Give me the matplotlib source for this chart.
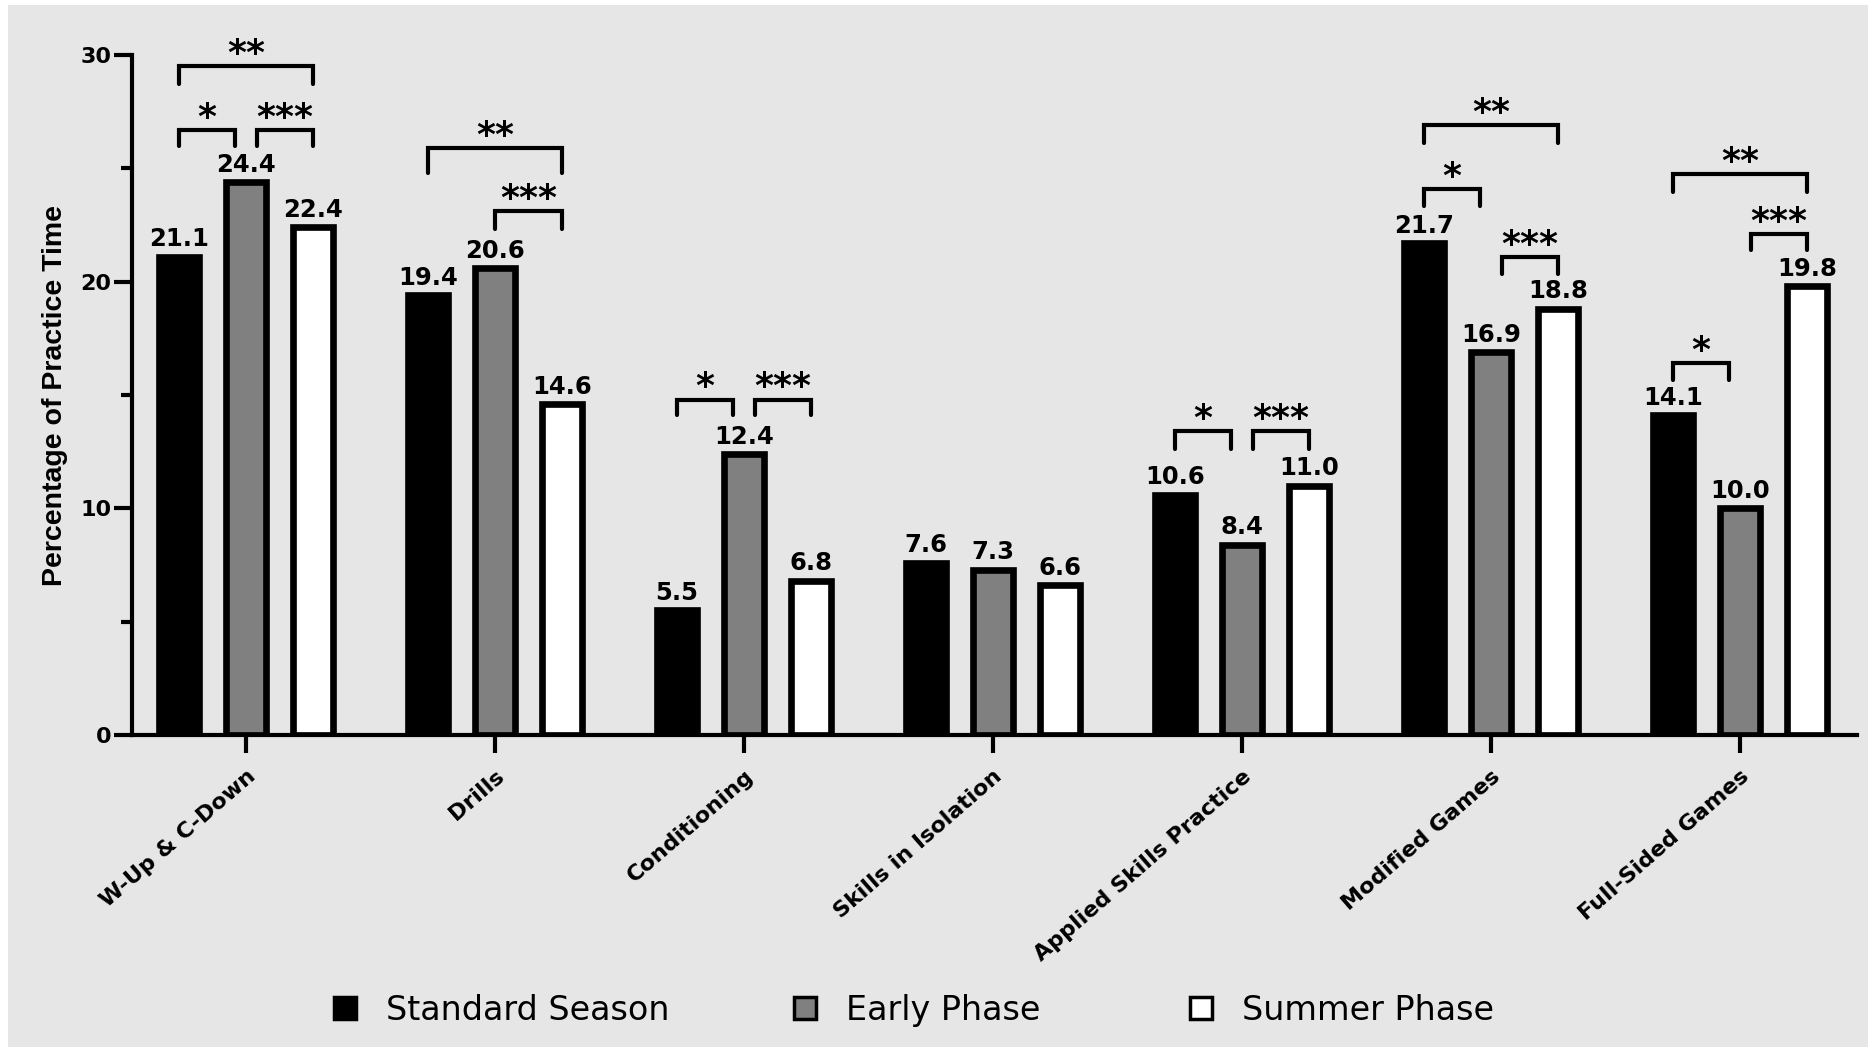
import matplotlib
matplotlib.use("Agg")
import matplotlib.pyplot as plt
import matplotlib.transforms as mtransforms
from matplotlib.lines import Line2D
from matplotlib.patches import Rectangle
import numpy as np

# DATA
categories = ["W-Up & C-Down", "Drills", "Conditioning", "Skills in Isolation",
              "Applied Skills Practice", "Modified Games", "Full-Sided Games"]
series_names = ["Standard Season", "Early Phase", "Summer Phase"]
standard_season = [21.1, 19.4, 5.5, 7.6, 10.6, 21.7, 14.1]
early_phase = [24.4, 20.6, 12.4, 7.3, 8.4, 16.9, 10.0]
summer_phase = [22.4, 14.6, 6.8, 6.6, 11.0, 18.8, 19.8]

# significance brackets: (category, first bar, second bar, height, leg drop, stars)
brackets = [
    (0, 0, 2, 29.5, 0.78, "**"),
    (0, 0, 1, 26.7, 0.72, "*"),
    (0, 1, 2, 26.7, 0.72, "***"),
    (1, 0, 2, 25.9, 1.1, "**"),
    (1, 1, 2, 23.1, 0.76, "***"),
    (2, 0, 1, 14.8, 0.7, "*"),
    (2, 1, 2, 14.8, 0.7, "***"),
    (4, 0, 1, 13.4, 0.78, "*"),
    (4, 1, 2, 13.4, 0.78, "***"),
    (5, 0, 2, 26.9, 0.78, "**"),
    (5, 0, 1, 24.1, 0.78, "*"),
    (5, 1, 2, 21.1, 0.74, "***"),
    (6, 0, 2, 24.75, 0.78, "**"),
    (6, 1, 2, 22.1, 0.72, "***"),
    (6, 0, 1, 16.4, 0.73, "*"),
]

# FIGURE
W, H = 1868, 1047
fig = plt.figure(figsize=(W / 100, H / 100), dpi=100)
fig.patches.append(Rectangle((8 / W, 0), 1, 1 - 5 / H, transform=fig.transFigure,
                             facecolor="#e6e6e6", edgecolor="none", zorder=-10))
ax = fig.add_axes([132 / W, 1 - 735 / H, (1857 - 132) / W, (735 - 55) / H])
ax.patch.set_visible(False)

x = np.arange(len(categories))
offset = 0.269
width = 0.162
colors = ["black", "#808080", "white"]

# bars + value labels
for k, (vals, col) in enumerate(zip([standard_season, early_phase, summer_phase], colors)):
    pos = x + (k - 1) * offset
    ax.bar(pos, vals, width, color=col, edgecolor="black", linewidth=4.8, zorder=2)
    for p, v in zip(pos, vals):
        ax.annotate(f"{v:.1f}", (p, v), xytext=(0, 7.5), textcoords="offset points",
                    ha="center", va="baseline", fontsize=17.5, fontweight="bold")

# brackets
pairs = {(b[0], b[1], b[2]) for b in brackets}
inset = 0.045
for cat, i, j, h, drop, stars in brackets:
    x1 = x[cat] + (i - 1) * offset
    x2 = x[cat] + (j - 1) * offset
    both = (cat, 0, 1) in pairs and (cat, 1, 2) in pairs
    if both and (i, j) == (0, 1):
        x2 -= inset
    if both and (i, j) == (1, 2):
        x1 += inset
    ax.plot([x1, x1, x2, x2], [h - drop, h, h, h - drop], color="black", lw=3,
            solid_capstyle="round", solid_joinstyle="miter", clip_on=False, zorder=3)
    ax.annotate(stars, ((x1 + x2) / 2, h), xytext=(0, 1.5), textcoords="offset points",
                ha="center", va="baseline", fontsize=26, fontweight="bold",
                annotation_clip=False)

# axes
ax.set_xlim(-0.458, 6.47)
ax.set_ylim(0, 30)
ax.set_yticks([0, 10, 20, 30])
ax.set_yticks([5, 15, 25], minor=True)
ax.set_xticks(x)
ax.set_xticklabels(categories, rotation=41, ha="right", va="top",
                   rotation_mode="anchor", fontsize=16, fontweight="bold")
shift = mtransforms.ScaledTranslation(6 / 72, 0, fig.dpi_scale_trans)
for lab in ax.get_xticklabels():
    lab.set_transform(lab.get_transform() + shift)
for lab in ax.get_yticklabels():
    lab.set_fontweight("bold")
ax.tick_params(axis="y", which="major", length=13, width=3, pad=2, labelsize=16)
ax.tick_params(axis="y", which="minor", length=8, width=3)
ax.tick_params(axis="x", length=13, width=3, pad=9.5)
for s in ["top", "right"]:
    ax.spines[s].set_visible(False)
for s in ["left", "bottom"]:
    ax.spines[s].set_linewidth(3)

ax.set_ylabel("Percentage of Practice Time", fontsize=20.5, fontweight="bold",
              family="Liberation Sans")
ax.yaxis.set_label_coords(-0.037, 0.5)

# legend: one entry per series, spread along the bottom
legend_x = [345, 805, 1201]
for name, col, lx in zip(series_names, colors, legend_x):
    h = Line2D([], [], ls="", marker="s", markersize=16, markerfacecolor=col,
               markeredgecolor="black", markeredgewidth=2.5)
    fig.legend([h], [name], loc="center left", bbox_to_anchor=((lx - 16.7) / W, 0.0353),
               frameon=False, fontsize=24, handlelength=1.0, handletextpad=0.73,
               borderpad=0, borderaxespad=0)

fig.savefig("out.png", dpi=100)
